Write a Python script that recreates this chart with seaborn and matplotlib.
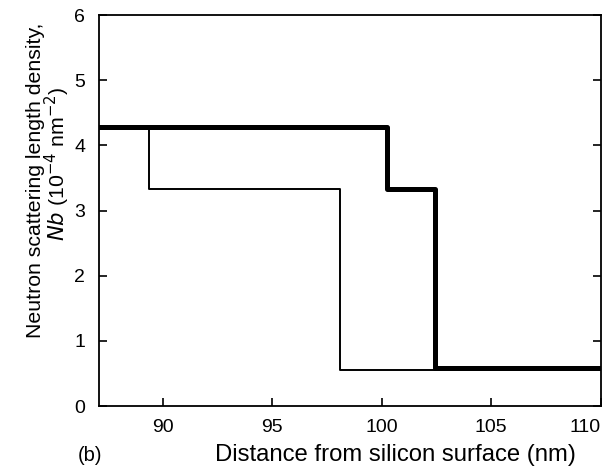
import matplotlib
matplotlib.use("Agg")
import matplotlib.pyplot as plt
import seaborn as sns
import pandas as pd

# Step profiles (x = layer boundaries, y = SLD value of the layer starting at x)
thick_x = [87.1, 100.25, 102.45, 110.0]
thick_y = [4.28, 3.33, 0.58, 0.58]
thin_x = [87.1, 89.4, 98.1, 110.0]
thin_y = [4.28, 3.33, 0.56, 0.56]
x_ticks = [90, 95, 100, 105, 110]
y_ticks = [0, 1, 2, 3, 4, 5, 6]

sns.set_theme(style="ticks")
plt.rcParams['font.family'] = ['Liberation Sans', 'DejaVu Sans']

fig = plt.figure(figsize=(6.15, 4.69), dpi=100)
ax = fig.add_axes([0.161, 0.134, 0.816, 0.834])

df_thick = pd.DataFrame({"x": thick_x, "y": thick_y})
df_thin = pd.DataFrame({"x": thin_x, "y": thin_y})

sns.lineplot(data=df_thin, x="x", y="y", ax=ax, color="black", linewidth=1.4,
             drawstyle="steps-post", estimator=None, sort=False)
sns.lineplot(data=df_thick, x="x", y="y", ax=ax, color="black", linewidth=3.6,
             drawstyle="steps-post", estimator=None, sort=False)

ax.set_xlim(87.1, 110)
ax.set_ylim(0, 6)
ax.set_xticks(x_ticks)
ax.set_yticks(y_ticks)
ax.tick_params(axis="both", direction="in", length=6, width=1.2, labelsize=14,
               color="black", labelcolor="black", top=False)
ax.tick_params(axis="y", right=True, labelright=False, pad=10)
ax.tick_params(axis="x", pad=9)
for s in ax.spines.values():
    s.set_color("black")
    s.set_linewidth(1.3)

fig.canvas.draw()
xlabels = ax.get_xticklabels()
xlabels[-1].set_horizontalalignment("right")

ax.set_xlabel("Distance from silicon surface (nm)", fontsize=17.2, color="black")
ax.xaxis.label.set_verticalalignment("center")
ax.xaxis.set_label_coords(0.59, -0.125)
ax.set_ylabel("")
fig.text(0.058, 0.616, "Neutron scattering length density,", rotation=90,
         fontsize=15.3, color="black", ha="center", va="center")
fig.text(0.094, 0.652, "$Nb$ (10$^{-4}$ nm$^{-2}$)", rotation=90,
         fontsize=15.3, color="black", ha="center", va="center")
fig.text(0.127, 0.028, "(b)", fontsize=14.5, color="black", ha="left", va="center")

fig.savefig("out.png", dpi=100)
